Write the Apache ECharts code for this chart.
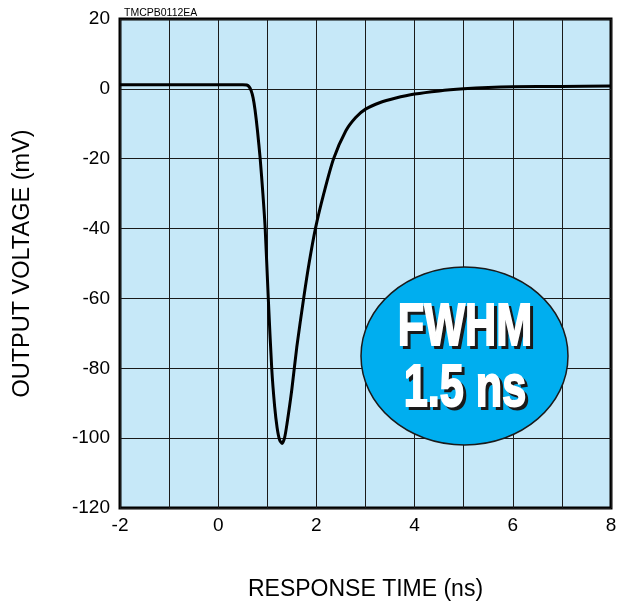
<!DOCTYPE html>
<html><head><meta charset="utf-8">
<script src="https://cdn.jsdelivr.net/npm/echarts@6/dist/echarts.min.js"></script>
<style>html,body{margin:0;padding:0;background:#fff}#c{width:630px;height:606px}</style>
</head><body><div id="c"></div>
<script>
// Response time (ns)
const timeNs = [-2, -1, 0, 0.5, 0.58, 0.63, 0.67, 0.71, 0.75, 0.8, 0.855, 0.91, 0.957, 1.02, 1.09, 1.15, 1.2, 1.25, 1.3, 1.35, 1.4, 1.5, 1.6, 1.74, 1.85, 1.98, 2.15, 2.35, 2.6, 2.8, 3.0, 3.3, 3.6, 4.0, 4.5, 5.0, 5.5, 6.0, 7.0, 8.0];
// Output voltage (mV)
const voltageMv = [1.2, 1.2, 1.2, 1.2, 1.1, 0.6, -0.5, -2.5, -6, -12, -20, -30, -40, -60, -80, -91, -97, -100.5, -101.5, -100, -96, -86, -74, -60, -50, -40, -30, -20, -12, -8.2, -5.8, -3.9, -2.7, -1.5, -0.6, 0, 0.4, 0.6, 0.7, 0.8];
const xTicks = [-2, 0, 2, 4, 6, 8];
const yTicks = [20, 0, -20, -40, -60, -80, -100, -120];

const chart = echarts.init(document.getElementById('c'));
const font = '"Liberation Sans", Arial, sans-serif';
const bigFont = 'bold 60px "Liberation Sans Narrow", "Liberation Sans", sans-serif';
chart.setOption({
  animation: false,
  grid: {left: 120, top: 19, right: 19, bottom: 96, show: true, backgroundColor: '#C6E8F8', borderColor: '#000', borderWidth: 3, z: 0},
  title: {text: 'TMCPB0112EA', left: 119, top: 3, textStyle: {fontFamily: font, fontSize: 10.5, fontWeight: 'normal', color: '#000'}},
  xAxis: {
    type: 'value', min: -2, max: 8, interval: 1,
    name: 'RESPONSE TIME (ns)', nameLocation: 'middle', nameGap: 70,
    nameTextStyle: {fontFamily: font, fontSize: 23, color: '#000'},
    axisLine: {show: false}, axisTick: {show: false},
    axisLabel: {fontFamily: font, fontSize: 19, color: '#000', margin: 8,
      formatter: v => xTicks.includes(v) ? String(v) : ''},
    splitLine: {show: true, lineStyle: {color: '#1a1a1a', width: 1}}
  },
  yAxis: {
    type: 'value', min: -120, max: 20, interval: 20,
    name: 'OUTPUT VOLTAGE (mV)', nameLocation: 'middle', nameGap: 85,
    nameTextStyle: {fontFamily: font, fontSize: 23.5, color: '#000'},
    axisLine: {show: false}, axisTick: {show: false},
    axisLabel: {fontFamily: font, fontSize: 19, color: '#000', margin: 10,
      formatter: v => yTicks.includes(v) ? String(v) : ''},
    splitLine: {show: true, lineStyle: {color: '#1a1a1a', width: 1}}
  },
  series: [{
    type: 'line', data: timeNs.map((t, i) => [t, voltageMv[i]]),
    smooth: 0.25, showSymbol: false,
    lineStyle: {color: '#000', width: 3}, z: 3
  }],
  graphic: [
    {type: 'ellipse', shape: {cx: 464.5, cy: 356, rx: 103.5, ry: 89}, style: {fill: '#00AEEF', stroke: '#1a1a1a', lineWidth: 1.5}, z: 10},
    {type: 'text', x: 468, y: 331, scaleX: 0.72, style: {text: 'FWHM', fill: '#1a1a1a', stroke: '#1a1a1a', lineWidth: 2, font: bigFont, textAlign: 'center', textVerticalAlign: 'middle'}, z: 11},
    {type: 'text', x: 465, y: 328, scaleX: 0.72, style: {text: 'FWHM', fill: '#fff', stroke: '#fff', lineWidth: 2, font: bigFont, textAlign: 'center', textVerticalAlign: 'middle'}, z: 12},
    {type: 'text', x: 468, y: 392, scaleX: 0.72, style: {text: '1.5 ns', fill: '#1a1a1a', stroke: '#1a1a1a', lineWidth: 2, font: bigFont, textAlign: 'center', textVerticalAlign: 'middle'}, z: 11},
    {type: 'text', x: 465, y: 389, scaleX: 0.72, style: {text: '1.5 ns', fill: '#fff', stroke: '#fff', lineWidth: 2, font: bigFont, textAlign: 'center', textVerticalAlign: 'middle'}, z: 12}
  ]
});
</script></body></html>
